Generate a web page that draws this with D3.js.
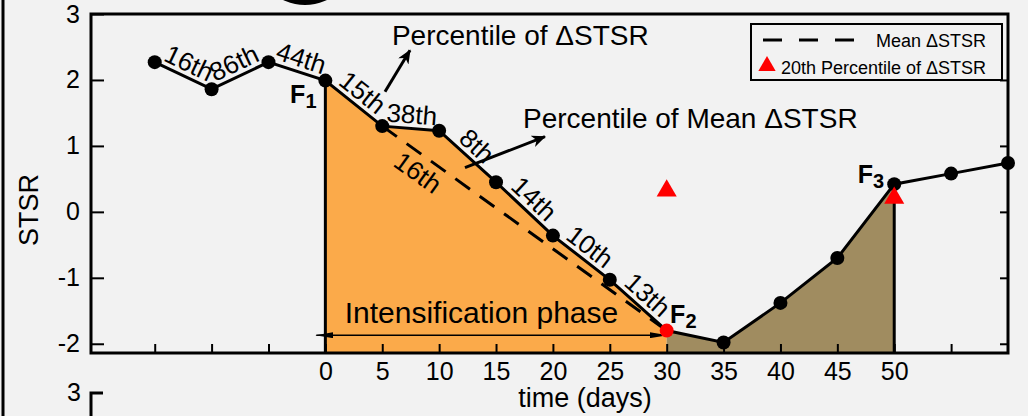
<!DOCTYPE html>
<html>
<head>
  <meta charset="UTF-8">
  <style>
    body { margin: 0; background: #f2f2f2; }
    svg { display: block; font-family: "Liberation Sans", Arial, sans-serif; }
  </style>
</head>
<body>
  <svg id="chart" width="1028" height="416"></svg>
  <script src="https://d3js.org/d3.v7.min.js"></script>
  <script>

    // data
    const days = [-15, -10, -5, 0, 5, 10, 15, 20, 25, 30, 35, 40, 45, 50, 55, 60];
    const stsr = [2.27, 1.86, 2.27, 1.99, 1.30, 1.23, 0.45, -0.36, -1.03, -1.80, -1.98, -1.38, -0.70, 0.42, 0.58, 0.74];
    const segLabels = ["16th", "86th", "44th", "15th", "38th", "8th", "14th", "10th", "13th"];
    const meanDays = [5, 30];
    const meanStsr = [1.30, -1.80];
    const meanLabel = "16th";
    const p20Days = [30, 50];
    const p20Stsr = [0.32, 0.21];
    const xTicks = d3.range(-15, 60, 5);
    const xTickLabels = d3.range(0, 55, 5);
    const yTicks = [-2, -1, 0, 1, 2, 3];
    const intensStart = 0, intensEnd = 30, weakenEnd = 50;

    // annotation anchors in data units
    const fLabels = [
      { sub: "1", x: -3.1, y: 1.65 },
      { sub: "2", x: 30.3, y: -1.69 },
      { sub: "3", x: 46.8, y: 0.44 }
    ];
    const notes = [
      { text: "Percentile of \u0394STSR", x: 5.85, y: 2.53, ax0: 5.24, ay0: 1.82, ax1: 7.44, ay1: 2.45 },
      { text: "Percentile of Mean \u0394STSR", x: 17.37, y: 1.27, ax0: 12.27, ay0: 0.67, ax1: 19.3, ay1: 1.14 }
    ];

    const pts = days.map((d, i) => ({ day: d, v: stsr[i] }));

    const svg = d3.select("#chart");
    const pLeft = 91, pRight = 1008, pTop = 14, pBottom = 353;

    const x = d3.scaleLinear().domain([-20.6, 60]).range([pLeft, pRight]);
    const y = d3.scaleLinear().domain([-2.14, 3]).range([pBottom, pTop]);

    // outer panel bits
    svg.append("line").attr("x1", 3).attr("x2", 3).attr("y1", 0).attr("y2", 416)
      .attr("stroke", "black").attr("stroke-width", 3);
    svg.append("circle").attr("cx", 305).attr("cy", -46).attr("r", 51).attr("fill", "black");

    let defs = svg.append("defs");
    defs.append("marker").attr("id", "head")
      .attr("viewBox", "0 -6 14 12").attr("refX", 13).attr("refY", 0)
      .attr("markerWidth", 14).attr("markerHeight", 12).attr("markerUnits", "userSpaceOnUse")
      .attr("orient", "auto-start-reverse")
      .append("path").attr("d", "M0,-6L14,0L0,6L4,0Z").attr("fill", "black");
    defs.append("marker").attr("id", "thin")
      .attr("viewBox", "0 -3 18 6").attr("refX", 17).attr("refY", 0)
      .attr("markerWidth", 18).attr("markerHeight", 6).attr("markerUnits", "userSpaceOnUse")
      .attr("orient", "auto-start-reverse")
      .append("path").attr("d", "M0,-3L18,0L0,3Z").attr("fill", "black");

    // filled phases
    const area = d3.area().x(d => x(d.day)).y0(y(-2.14)).y1(d => y(d.v));
    svg.append("path")
      .datum(pts.filter(d => d.day >= intensStart && d.day <= intensEnd))
      .attr("fill", "#fbaa4a").attr("d", area);
    svg.append("path")
      .datum(pts.filter(d => d.day >= intensEnd && d.day <= weakenEnd))
      .attr("fill", "#a08c60").attr("d", area);

    // axes, ticks inward
    svg.append("g").attr("transform", `translate(${pLeft},0)`)
      .call(d3.axisLeft(y).tickValues(yTicks).tickSize(-13).tickPadding(11).tickFormat(d => String(d)));
    svg.append("g").attr("transform", `translate(${pRight},0)`)
      .call(d3.axisRight(y).tickValues(yTicks.slice(0, 5)).tickSize(-8).tickFormat(""));
    svg.append("g").attr("transform", `translate(0,${pBottom})`)
      .call(d3.axisBottom(x).tickValues(xTicks).tickSize(-9).tickPadding(9)
        .tickFormat(d => xTickLabels.includes(d) ? String(d) : ""));
    svg.selectAll(".domain").remove();
    svg.selectAll(".tick line").attr("stroke", "black").attr("stroke-width", 2);
    svg.selectAll(".tick text").attr("fill", "black").style("font-size", "25px")
      .style("font-family", "'Liberation Sans', Arial, sans-serif");

    svg.append("rect").attr("x", pLeft).attr("y", pTop)
      .attr("width", pRight - pLeft).attr("height", pBottom - pTop)
      .attr("fill", "none").attr("stroke", "black").attr("stroke-width", 3);

    // axis titles
    svg.append("text").attr("transform", "translate(38,210) rotate(-90)")
      .attr("text-anchor", "middle").style("font-size", "27px").text("STSR");
    svg.append("text").attr("x", 585).attr("y", 407)
      .attr("text-anchor", "middle").style("font-size", "27px").text("time (days)");

    // next panel corner
    svg.append("text").attr("x", 81).attr("y", 401).attr("text-anchor", "end")
      .style("font-size", "25px").text("3");
    svg.append("path").attr("d", "M103,393H91V416").attr("fill", "none")
      .attr("stroke", "black").attr("stroke-width", 3);

    // mean line
    svg.append("line")
      .attr("x1", x(meanDays[0])).attr("y1", y(meanStsr[0]))
      .attr("x2", x(meanDays[1])).attr("y2", y(meanStsr[1]))
      .attr("stroke", "black").attr("stroke-width", 3).attr("stroke-dasharray", "18,12");

    // vertical phase edges
    [intensStart, weakenEnd].forEach(d => {
      const p = pts.find(q => q.day === d);
      svg.append("line").attr("x1", x(d)).attr("x2", x(d))
        .attr("y1", y(p.v)).attr("y2", pBottom)
        .attr("stroke", "black").attr("stroke-width", 3);
    });

    // intensification arrow
    svg.append("line")
      .attr("x1", x(-0.8)).attr("x2", x(intensEnd)).attr("y1", y(-1.87)).attr("y2", y(-1.87))
      .attr("stroke", "black").attr("stroke-width", 1.5)
      .attr("marker-start", "url(#thin)").attr("marker-end", "url(#thin)");
    svg.append("text").attr("x", x(1.7)).attr("y", y(-1.69))
      .style("font-size", "30px").text("Intensification phase");

    // series line and dots
    svg.append("path").datum(pts)
      .attr("fill", "none").attr("stroke", "black").attr("stroke-width", 3)
      .attr("d", d3.line().x(d => x(d.day)).y(d => y(d.v)));
    svg.append("g").selectAll("circle").data(pts).enter().append("circle")
      .attr("cx", d => x(d.day)).attr("cy", d => y(d.v)).attr("r", 7)
      .attr("fill", d => d.day === intensEnd ? "red" : "black");

    // percentile labels along segments
    segLabels.forEach((t, i) => {
      const x0 = x(days[i]), y0 = y(stsr[i]), x1 = x(days[i + 1]), y1 = y(stsr[i + 1]);
      const ang = Math.atan2(y1 - y0, x1 - x0) * 180 / Math.PI;
      svg.append("text")
        .attr("transform", `translate(${(x0 + x1) / 2},${(y0 + y1) / 2}) rotate(${ang})`)
        .attr("y", -5).attr("text-anchor", "middle").style("font-size", "26px").text(t);
    });
    {
      const x0 = x(meanDays[0]), y0 = y(meanStsr[0]), x1 = x(meanDays[1]), y1 = y(meanStsr[1]);
      const ang = Math.atan2(y1 - y0, x1 - x0) * 180 / Math.PI;
      const f = (9 - meanDays[0]) / (meanDays[1] - meanDays[0]);
      svg.append("text")
        .attr("transform", `translate(${x0 + f * (x1 - x0)},${y0 + f * (y1 - y0)}) rotate(${ang})`)
        .attr("y", 26).attr("text-anchor", "middle").style("font-size", "26px").text(meanLabel);
    }

    // 20th percentile triangles
    svg.append("g").selectAll("path").data(p20Days).enter().append("path")
      .attr("transform", (d, i) => `translate(${x(d)},${y(p20Stsr[i])})`)
      .attr("d", d3.symbol().type(d3.symbolTriangle).size(175)).attr("fill", "red");

    // F labels
    fLabels.forEach(f => {
      const t = svg.append("text").attr("x", x(f.x)).attr("y", y(f.y))
        .style("font-size", "25px").style("font-weight", "bold");
      t.append("tspan").text("F");
      t.append("tspan").attr("dy", 5).style("font-size", "20px").text(f.sub);
    });

    // arrows with notes
    notes.forEach(n => {
      svg.append("line").attr("x1", x(n.ax0)).attr("y1", y(n.ay0))
        .attr("x2", x(n.ax1)).attr("y2", y(n.ay1))
        .attr("stroke", "black").attr("stroke-width", 3).attr("marker-end", "url(#head)");
      svg.append("text").attr("x", x(n.x)).attr("y", y(n.y))
        .style("font-size", "28px").text(n.text);
    });

    // legend
    let lg = svg.append("g");
    lg.append("rect").attr("x", 751).attr("y", 24).attr("width", 251).attr("height", 56)
      .attr("fill", "#f2f2f2").attr("stroke", "black").attr("stroke-width", 2);
    lg.append("line").attr("x1", 763).attr("x2", 854).attr("y1", 40).attr("y2", 40)
      .attr("stroke", "black").attr("stroke-width", 3).attr("stroke-dasharray", "19,17");
    lg.append("text").attr("x", 986).attr("y", 47).attr("text-anchor", "end")
      .style("font-size", "18px").text("Mean \u0394STSR");
    lg.append("path").attr("transform", "translate(767,66)")
      .attr("d", d3.symbol().type(d3.symbolTriangle).size(130)).attr("fill", "red");
    lg.append("text").attr("x", 986).attr("y", 74).attr("text-anchor", "end")
      .style("font-size", "18px").text("20th Percentile of \u0394STSR");

  </script>
</body>
</html>
